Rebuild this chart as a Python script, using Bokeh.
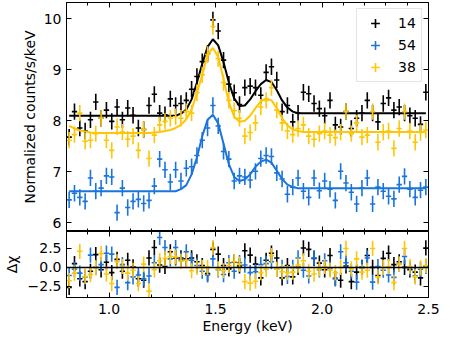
import numpy as np
from bokeh.plotting import figure
from bokeh.layouts import column
from bokeh.models import (ColumnDataSource, FixedTicker, LinearAxis, Range1d,
                          Legend, LegendItem, CustomJSTickFormatter, Span)
from bokeh.embed import file_html
from bokeh.resources import INLINE

# ---------------- data ----------------
energy = [0.8125, 0.8375, 0.8625, 0.8875, 0.9125, 0.9375, 0.9625, 0.9875, 1.0125, 1.0375,
          1.0625, 1.0875, 1.1125, 1.1375, 1.1625, 1.1875, 1.2125, 1.2375, 1.2625, 1.2875,
          1.3125, 1.3375, 1.3625, 1.3875, 1.4125, 1.4375, 1.4625, 1.4875, 1.5125, 1.5375,
          1.5625, 1.5875, 1.6125, 1.6375, 1.6625, 1.6875, 1.7125, 1.7375, 1.7625, 1.7875,
          1.8125, 1.8375, 1.8625, 1.8875, 1.9125, 1.9375, 1.9625, 1.9875, 2.0125, 2.0375,
          2.0625, 2.0875, 2.1125, 2.1375, 2.1625, 2.1875, 2.2125, 2.2375, 2.2625, 2.2875,
          2.3125, 2.3375, 2.3625, 2.3875, 2.4125, 2.4375, 2.4625, 2.4875]
bin_half_width = 0.0125

counts_14 = [7.68, 8.18, 7.86, 7.80, 8.02, 8.37, 8.05, 8.21, 7.99, 8.27,
             8.02, 8.25, 8.11, 7.86, 7.83, 8.30, 8.52, 8.15, 8.12, 8.43,
             8.30, 8.34, 8.40, 8.62, 8.87, 9.16, 9.32, 9.98, 9.76, 9.19,
             8.72, 8.55, 8.32, 8.65, 8.68, 8.65, 8.50, 8.95, 9.06, 8.80,
             8.18, 8.30, 7.98, 8.15, 8.56, 8.53, 8.34, 8.24, 8.10, 8.40,
             7.92, 7.88, 8.18, 7.85, 8.05, 8.15, 8.40, 8.15, 7.98, 8.34,
             8.45, 8.21, 8.27, 8.15, 8.10, 8.05, 7.93, 8.56]
model_14 = [8.10, 8.10, 8.10, 8.10, 8.10, 8.10, 8.10, 8.10, 8.10, 8.10,
            8.10, 8.10, 8.10, 8.10, 8.10, 8.10, 8.10, 8.10, 8.10, 8.10,
            8.10, 8.14, 8.22, 8.42, 8.75, 9.12, 9.45, 9.60, 9.48, 9.15,
            8.75, 8.44, 8.29, 8.30, 8.42, 8.58, 8.72, 8.80, 8.76, 8.60,
            8.40, 8.26, 8.18, 8.15, 8.15, 8.15, 8.15, 8.15, 8.15, 8.15,
            8.15, 8.15, 8.15, 8.15, 8.15, 8.15, 8.15, 8.15, 8.15, 8.15,
            8.15, 8.15, 8.15, 8.15, 8.15, 8.15, 8.15, 8.15]
err_14 = 0.16

counts_54 = [6.45, 6.58, 6.50, 6.42, 6.88, 6.62, 6.68, 6.92, 6.90, 6.20,
             6.68, 6.30, 6.42, 6.46, 6.38, 6.44, 6.72, 7.25, 7.04, 6.80,
             7.04, 6.82, 7.07, 7.10, 7.32, 7.62, 7.86, 8.30, 7.90, 7.40,
             7.25, 6.82, 6.92, 6.90, 6.84, 7.01, 7.26, 7.32, 7.30, 6.98,
             6.86, 6.56, 6.70, 6.88, 6.62, 6.50, 6.88, 6.63, 6.82, 6.66,
             6.44, 7.01, 6.78, 6.60, 6.37, 6.68, 6.88, 6.37, 6.70, 6.62,
             6.52, 6.47, 6.75, 6.91, 6.66, 6.50, 6.64, 6.70]
model_54 = [6.62, 6.62, 6.62, 6.62, 6.62, 6.62, 6.62, 6.62, 6.62, 6.62,
            6.62, 6.62, 6.62, 6.62, 6.62, 6.62, 6.62, 6.62, 6.62, 6.62,
            6.62, 6.66, 6.74, 6.95, 7.28, 7.70, 8.02, 8.12, 7.95, 7.55,
            7.15, 6.90, 6.82, 6.85, 6.95, 7.10, 7.20, 7.24, 7.18, 7.02,
            6.86, 6.75, 6.70, 6.68, 6.68, 6.68, 6.68, 6.68, 6.68, 6.68,
            6.68, 6.68, 6.68, 6.68, 6.68, 6.68, 6.68, 6.68, 6.68, 6.68,
            6.68, 6.68, 6.68, 6.68, 6.68, 6.68, 6.68, 6.68]
err_54 = 0.16

counts_38 = [7.62, 7.73, 8.15, 7.60, 7.62, 7.75, 8.05, 7.62, 7.42, 7.88,
             7.78, 7.64, 7.70, 7.42, 7.83, 7.26, 7.72, 7.92, 7.99, 8.05,
             8.08, 8.05, 8.18, 8.15, 8.55, 8.90, 9.30, 9.85, 9.22, 8.75,
             8.40, 8.20, 8.05, 7.70, 7.77, 7.96, 8.27, 8.40, 8.65, 8.21,
             7.96, 7.80, 7.73, 7.85, 7.92, 7.70, 7.64, 7.75, 7.80, 7.72,
             7.67, 7.78, 8.18, 7.75, 7.96, 7.68, 7.72, 8.18, 7.58, 7.78,
             7.80, 7.46, 7.85, 8.18, 7.80, 7.58, 7.77, 7.82]
model_38 = [7.90, 7.85, 7.81, 7.79, 7.77, 7.76, 7.76, 7.76, 7.76, 7.76,
            7.76, 7.76, 7.76, 7.76, 7.76, 7.76, 7.77, 7.78, 7.80, 7.82,
            7.86, 7.92, 8.03, 8.22, 8.55, 8.90, 9.30, 9.43, 9.25, 8.82,
            8.36, 8.08, 7.98, 8.00, 8.10, 8.25, 8.38, 8.44, 8.40, 8.25,
            8.05, 7.91, 7.83, 7.80, 7.78, 7.78, 7.78, 7.78, 7.78, 7.78,
            7.78, 7.78, 7.78, 7.78, 7.78, 7.78, 7.78, 7.78, 7.78, 7.78,
            7.78, 7.78, 7.78, 7.78, 7.78, 7.78, 7.78, 7.78]
err_38 = 0.16

series_labels = ["14", "54", "38"]
series_colors = ["#000000", "#1a74dd", "#ffc605"]

x_major_ticks = [1.0, 1.5, 2.0, 2.5]
x_minor_ticks = [0.8, 0.9, 1.1, 1.2, 1.3, 1.4, 1.6, 1.7, 1.8, 1.9, 2.1, 2.2, 2.3, 2.4]
top_y_ticks = [6, 7, 8, 9, 10]
res_y_ticks = [-2.5, 0.0, 2.5]

FONT = "DejaVu Sans"
FS = "14px"

series = [
    (series_labels[0], series_colors[0], counts_14, model_14, err_14),
    (series_labels[1], series_colors[1], counts_54, model_54, err_54),
    (series_labels[2], series_colors[2], counts_38, model_38, err_38),
]

blank_fmt = CustomJSTickFormatter(code="return '';")
x_fmt = CustomJSTickFormatter(code="return tick.toFixed(1);")


def style_axis(ax, show_labels, standoff=5):
    ax.major_tick_in = 5
    ax.major_tick_out = 0
    ax.minor_tick_in = 3
    ax.minor_tick_out = 0
    ax.axis_line_color = "black"
    ax.axis_line_width = 1
    ax.major_tick_line_color = "black"
    ax.minor_tick_line_color = "black"
    ax.major_label_text_font = FONT
    ax.major_label_text_color = "black"
    ax.axis_label_text_font = FONT
    ax.axis_label_text_font_size = FS
    ax.axis_label_text_font_style = "normal"
    ax.axis_label_text_color = "black"
    if show_labels:
        ax.major_label_text_font_size = FS
        ax.major_label_standoff = standoff
    else:
        ax.formatter = blank_fmt
        ax.major_label_text_font_size = "1px"
        ax.major_label_standoff = 0


def add_frame_axes(p, yticks, ylabel, ylabel_standoff, xlabels, xlabel=None, yformatter=None):
    for side in ["below", "above"]:
        ax = LinearAxis(ticker=FixedTicker(ticks=x_major_ticks, minor_ticks=x_minor_ticks))
        show = (side == "below") and xlabels
        style_axis(ax, show, standoff=6)
        if show:
            ax.formatter = x_fmt
            if xlabel:
                ax.axis_label = xlabel
                ax.axis_label_standoff = 1
        p.add_layout(ax, side)
    for side in ["left", "right"]:
        ax = LinearAxis(ticker=FixedTicker(ticks=yticks, minor_ticks=[]))
        show = side == "left"
        style_axis(ax, show, standoff=5)
        if show:
            ax.axis_label = ylabel
            ax.axis_label_standoff = ylabel_standoff
            if yformatter is not None:
                ax.formatter = yformatter
        p.add_layout(ax, side)


def base_fig(frame_h, yr, top_border):
    p = figure(frame_width=362, frame_height=frame_h, x_range=x_range, y_range=yr,
               output_backend="svg", toolbar_location=None,
               x_axis_location=None, y_axis_location=None,
               min_border_left=60, min_border_right=12,
               min_border_top=top_border, min_border_bottom=0)
    p.xgrid.visible = False
    p.ygrid.visible = False
    p.outline_line_color = "black"
    p.outline_line_width = 1
    p.background_fill_color = "white"
    p.border_fill_color = "white"
    return p


x_range = Range1d(0.8, 2.5)

# ---------------- top panel ----------------
p1 = base_fig(229, Range1d(5.83, 10.32), 2)
add_frame_axes(p1, top_y_ticks, "Normalized counts/s/keV", 3, xlabels=False)

legend_items = []
for label, color, counts, model, err in series:
    x = np.array(energy)
    y = np.array(counts)
    src = ColumnDataSource(dict(x=x, y=y, xl=x - bin_half_width, xr=x + bin_half_width,
                                yl=y - err, yh=y + err))
    p1.segment(x0="xl", x1="xr", y0="y", y1="y", source=src, line_color=color, line_width=1.6)
    p1.segment(x0="x", x1="x", y0="yl", y1="yh", source=src, line_color=color, line_width=1.6)
    p1.line(energy, model, line_color=color, line_width=2)
    # legend glyph: a cross marker of zero size on the data (invisible in the plot itself)
    marker = p1.scatter(x="x", y="y", source=src, marker="cross", size=0,
                        line_color=color, line_width=1.6)
    legend_items.append(LegendItem(label=label, renderers=[marker]))

legend = Legend(items=legend_items, location="top_right",
                label_text_font=FONT, label_text_font_size=FS, label_text_color="black",
                glyph_height=22, glyph_width=30, spacing=0, padding=3, label_standoff=8,
                border_line_color="#cccccc", border_line_width=1,
                background_fill_color="white", background_fill_alpha=0.8, margin=6)
p1.add_layout(legend)

# ---------------- residual panel ----------------
p2 = base_fig(66, Range1d(-3.96, 4.73), 0)
res_fmt = CustomJSTickFormatter(code="""
if (Math.abs(tick) < 1e-9) { return "0.0"; }
const s = Math.abs(tick).toFixed(1);
return tick < 0 ? "\u2212" + s : s;
""")
add_frame_axes(p2, res_y_ticks, "Δχ", 5, xlabels=True, xlabel="Energy (keV)", yformatter=res_fmt)

for label, color, counts, model, err in series:
    x = np.array(energy)
    r = (np.array(counts) - np.array(model)) / err
    src = ColumnDataSource(dict(x=x, y=r, xl=x - bin_half_width, xr=x + bin_half_width,
                                yl=r - 1.0, yh=r + 1.0))
    p2.segment(x0="xl", x1="xr", y0="y", y1="y", source=src, line_color=color, line_width=1.6)
    p2.segment(x0="x", x1="x", y0="yl", y1="yh", source=src, line_color=color, line_width=1.6)

p2.add_layout(Span(location=0, dimension="width", line_color="black", line_width=1.5))

layout = column(p1, p2, spacing=0)
open("out.html", "w").write(file_html(layout, INLINE))
